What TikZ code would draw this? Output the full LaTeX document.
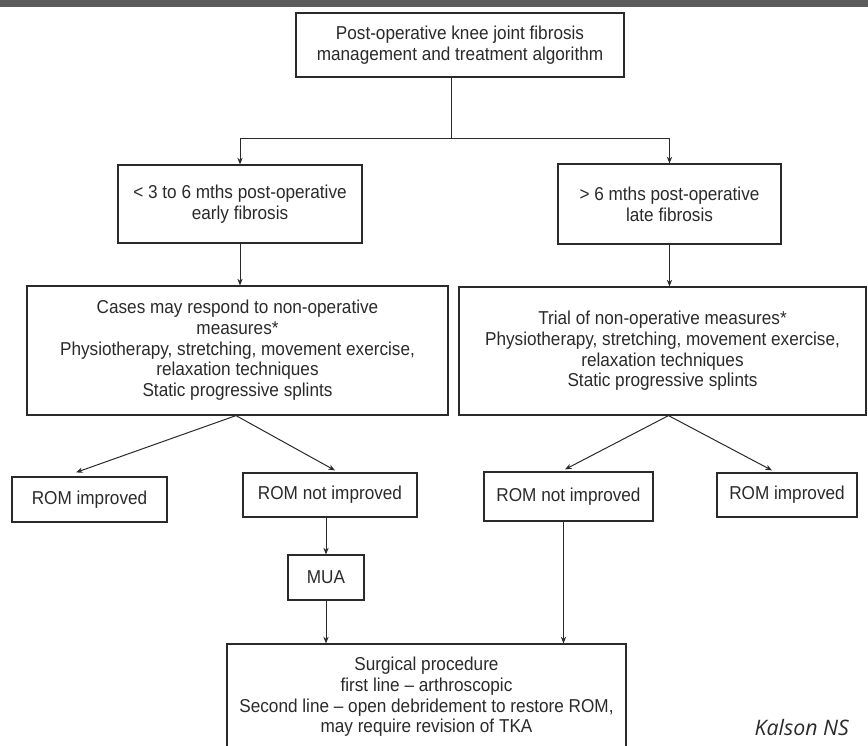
\documentclass[tikz,border=0pt]{standalone}
\usepackage{fontspec}
\setmainfont{Liberation Sans}[FakeStretch=0.92]
\newfontfamily\credfont{Open Sans}
\usetikzlibrary{arrows.meta,calc}
\definecolor{ink}{HTML}{2A2A2A}
\definecolor{bar}{HTML}{5C5C5C}
\begin{document}
\begin{tikzpicture}[x=0.75pt,y=-0.75pt,
  box/.style={draw=ink,line width=0.9pt,align=center,inner sep=0pt,text=ink,
    font=\fontsize{14}{15.5}\selectfont},
  arr/.style={draw=ink,line width=0.75pt,-{Stealth[length=5pt,width=4pt]}},
  ln/.style={draw=ink,line width=0.75pt}]
\useasboundingbox (0,0) rectangle (868,746);
\fill[bar] (0,0) rectangle (868,7);
% nodes
\node[box,minimum width=246pt,minimum height=48pt] (top) at (460,45)
  {Post-operative knee joint fibrosis\\management and treatment algorithm};
\node[box,minimum width=183pt,minimum height=58.5pt] (A) at (240,204)
  {< 3 to 6 mths post-operative\\early fibrosis};
\node[box,minimum width=167.25pt,minimum height=60pt] (B) at (669.5,204)
  {> 6 mths post-operative\\late fibrosis};
\node[box,minimum width=315.75pt,minimum height=96.75pt] (C) at (237.5,350.5)
  {Cases may respond to non-operative\\measures*\\Physiotherapy, stretching, movement exercise,\\relaxation techniques\\Static progressive splints};
\node[box,minimum width=305.25pt,minimum height=96pt] (D) at (662.5,351)
  {Trial of non-operative measures*\\Physiotherapy, stretching, movement exercise,\\relaxation techniques\\Static progressive splints};
\node[box,minimum width=116.25pt,minimum height=33.75pt] (R1) at (89.5,499.5) {ROM improved};
\node[box,minimum width=130.5pt,minimum height=33pt] (R2) at (330,495) {ROM not improved};
\node[box,minimum width=126.75pt,minimum height=36.75pt] (R3) at (568.5,496.5) {ROM not improved};
\node[box,minimum width=105pt,minimum height=33pt] (R4) at (787,495) {ROM improved};
\node[box,minimum width=57pt,minimum height=33.75pt] (MUA) at (326,577.5) {MUA};
\node[box,minimum width=299.25pt,minimum height=79.5pt] (S) at (426.5,697)
  {Surgical procedure\\first line -- arthroscopic\\Second line -- open debridement to restore ROM,\\may require revision of TKA};
\node[anchor=west,text=ink,font=\credfont\itshape\fontsize{16}{18}\selectfont] (cred) at (750,727) {Kalson NS};
% connectors
\coordinate (split) at (451,138);
\draw[ln] (split |- top.south) -- (split);
\draw[arr] (split) -| (A);
\draw[arr] (split) -| (B);
\draw[arr] (A) -- (A |- C.north);
\draw[arr] (B) -- (B |- D.north);
\draw[arr] ($(C.south)+(-1.5,0)$) -- ($(R1.north)+(-13.5,-4)$);
\draw[arr] ($(C.south)+(-1.5,0)$) -- ($(R2.north)+(5,-2)$);
\draw[arr] ($(D.south)+(6,0)$) -- ($(R3.north)+(-3.5,-2)$);
\draw[arr] ($(D.south)+(6,0)$) -- ($(R4.north)+(-15,-2)$);
\draw[arr] (MUA.north |- R2.south) -- (MUA.north);
\draw[arr] (MUA) -- (MUA |- S.north);
\coordinate (r3b) at ($(R3.south)+(-5,0)$);
\draw[arr] (r3b) -- (r3b |- S.north);
\end{tikzpicture}
\end{document}
